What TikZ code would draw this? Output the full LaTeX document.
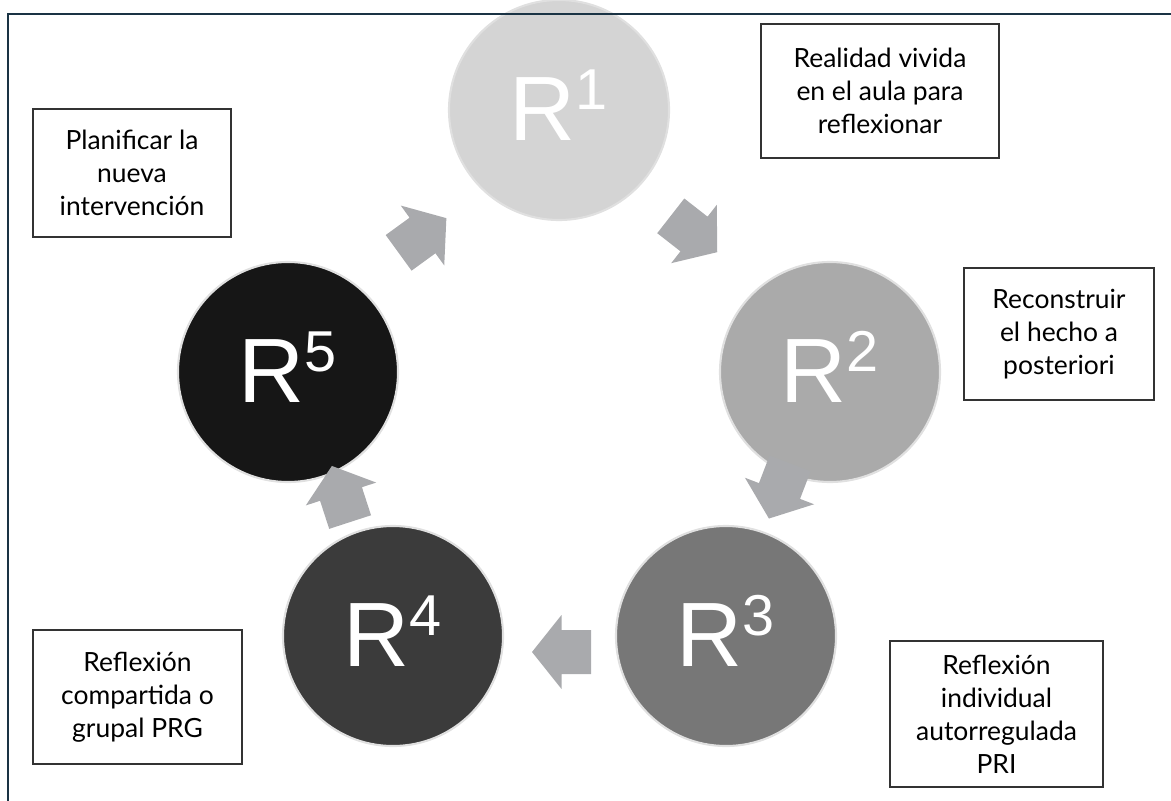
\documentclass[tikz,border=0pt]{standalone}
\usepackage{fontspec}
\setmainfont{Lato}
\newfontfamily\stagefont{Liberation Sans}
\usepackage{xcolor}
\usepackage{tikz}
\usetikzlibrary{positioning}

\definecolor{framenavy}{HTML}{1A3344}
\definecolor{arrowgray}{HTML}{A9AAAD}
\definecolor{stageone}{HTML}{D4D4D4}
\definecolor{stagetwo}{HTML}{AAAAAA}
\definecolor{stagethree}{HTML}{777777}
\definecolor{stagefour}{HTML}{3B3B3B}
\definecolor{stagefive}{HTML}{161616}

\newcommand{\rsup}[1]{\raisebox{-21.5pt}[0pt][0pt]{R\raisebox{22pt}{\fontsize{41}{41}\selectfont #1}}}

\tikzset{
  stage/.style={circle, draw=white!88!black, line width=1.5pt, minimum size=5.5cm, inner sep=0pt,
    text=white, font=\stagefont\fontsize{65}{65}\selectfont},
  notebox/.style={rectangle, draw=black!80, line width=0.9pt, align=center, inner sep=2pt,
    font=\fontsize{18.8}{23.5}\selectfont},
  cyclearrow/.style={fill=arrowgray, draw=none}
}

\begin{document}
\begin{tikzpicture}[x=0.025cm, y=-0.025cm]
            \useasboundingbox (0,0) rectangle (1171,801);

            % Stages of the cycle
            \node[stage, fill=stageone] (r1) at (559,110) {\rsup{1}};
            \node[stage, fill=stagetwo] (r2) at (830,372) {\rsup{2}};
            \node[stage, fill=stagethree] (r3) at (726,636) {\rsup{3}};
            \node[stage, fill=stagefour] (r4) at (393,636) {\rsup{4}};
            \node[stage, fill=stagefive] (r5) at (288,372) {\rsup{5}};

            % Block arrows between the stages
            \foreach \cx/\cy/\ang in {694/234/-38, 779.5/491/-111, 561.5/652/180, 341/494/108, 422.5/235.5/36}
              \fill[cyclearrow, shift={(\cx,\cy)}, rotate=\ang]
                (-29.5,-22) -- (0,-22) -- (0,-37) -- (29.5,0) -- (0,37) -- (0,22) -- (-29.5,22) -- cycle;

            % Text boxes
            \node[notebox, minimum width=5.95cm, minimum height=3.35cm] (n1) at (880,91) {Realidad vivida\\en el aula para\\reflexionar};
            \node[notebox, minimum width=4.75cm, minimum height=3.3cm] (n2) at (1059,334) {Reconstruir\\el hecho a\\posteriori};
            \node[notebox, minimum width=5.325cm, minimum height=3.65cm] (n3) at (996.5,714) {Reflexión\\individual\\autorregulada\\PRI};
            \node[notebox, minimum width=5.225cm, minimum height=3.35cm] (n4) at (137.5,697) {Reflexión\\compartida o\\grupal PRG};
            \node[notebox, minimum width=4.95cm, minimum height=3.2cm] (n5) at (132,173) {Planificar la\\nueva\\intervención};

            % frame
            \draw[framenavy, line width=1.8pt] (8,801) -- (8,14) -- (1171,14);
        \end{tikzpicture}
\end{document}
